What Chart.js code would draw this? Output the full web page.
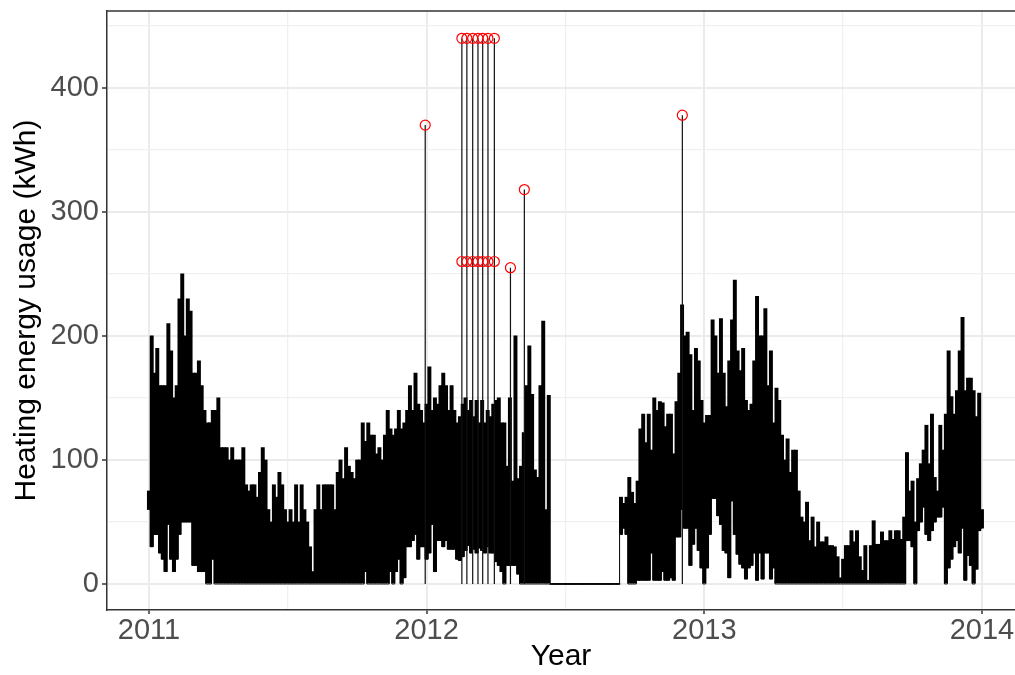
<!DOCTYPE html>
<html>
<head>
<meta charset="utf-8">
<script src="https://cdn.jsdelivr.net/npm/chart.js@4.4.1/dist/chart.umd.min.js"></script>
<style>
  html, body { margin: 0; padding: 0; background: #fff; }
  #wrap { width: 1015px; height: 675px; position: relative; }
</style>
</head>
<body>
<div id="wrap"><canvas id="heatChart"></canvas></div>
<script>
// sampled envelope of the hourly series, one value per 0.01 year from 2011.00 to 2014.00
const yearStart = 2011;
const yearStep = 0.01;

const upper = [
  75, 200, 170, 190, 160, 160, 160, 210, 188, 150,   // 2011.0x
  160, 230, 250, 200, 230, 220, 170, 170, 180, 160,  // 2011.1x
  140, 130, 130, 140, 140, 150, 110, 110, 110, 100,  // 2011.2x
  110, 100, 100, 100, 110, 80, 75, 80, 80, 70,       // 2011.3x
  90, 110, 100, 60, 50, 80, 70, 90, 80, 60,          // 2011.4x
  50, 60, 50, 80, 50, 80, 60, 50, 30, 10,            // 2011.5x
  60, 80, 60, 80, 80, 80, 80, 60, 90, 100,           // 2011.6x
  85, 110, 95, 90, 85, 100, 100, 130, 115, 130,      // 2011.7x
  120, 120, 105, 110, 100, 120, 140, 125, 120, 125,  // 2011.8x
  140, 125, 130, 140, 160, 140, 170, 145, 140, 130,  // 2011.9x
  145, 175, 140, 150, 145, 160, 170, 160, 140, 160,  // 2012.0x
  140, 130, 135, 145, 150, 140, 148, 135, 148, 130,  // 2012.1x
  148, 130, 140, 135, 145, 148, 150, 130, 130, 95,   // 2012.2x
  150, 83, 200, 85, 95, 122, 160, 192, 153, 92,      // 2012.3x
  86, 160, 212, 60, 152, 0, 0, 0, 0, 0,              // 2012.4x
  0, 0, 0, 0, 0, 0, 0, 0, 0, 0,                      // 2012.5x
  0, 0, 0, 0, 0, 0, 0, 0, 0, 0,                      // 2012.6x
  70, 65, 70, 86, 74, 65, 83, 125, 137, 114,         // 2012.7x
  137, 108, 150, 140, 147, 146, 127, 137, 137, 105,  // 2012.8x
  147, 170, 225, 200, 203, 185, 140, 190, 180, 148,  // 2012.9x
  130, 136, 136, 213, 200, 170, 214, 170, 143, 180,  // 2013.0x
  213, 245, 188, 172, 190, 148, 140, 145, 180, 232,  // 2013.1x
  200, 200, 222, 160, 188, 130, 158, 148, 120, 100,  // 2013.2x
  117, 90, 108, 108, 75, 54, 50, 66, 35, 54,         // 2013.3x
  30, 50, 34, 34, 38, 31, 31, 30, 22, 5,             // 2013.4x
  20, 31, 31, 43, 34, 43, 22, 11, 31, 3,             // 2013.5x
  31, 51, 32, 32, 42, 35, 35, 43, 36, 43,            // 2013.6x
  43, 36, 54, 106, 75, 83, 50, 85, 97, 108,          // 2013.7x
  128, 97, 137, 86, 75, 128, 108, 137, 188, 151,     // 2013.8x
  137, 156, 188, 215, 156, 166, 166, 156, 135, 154,  // 2013.9x
  60                                                 // 2014.00
];

const lower = [
  60, 30, 40, 40, 25, 20, 10, 48, 20, 10,            // 2011.0x
  20, 40, 50, 50, 50, 50, 15, 15, 10, 10,            // 2011.1x
  10, 0, 0, 20, 0, 0, 0, 0, 0, 0,                    // 2011.2x
  0, 0, 0, 0, 0, 0, 0, 0, 0, 0,                      // 2011.3x
  0, 0, 0, 0, 0, 0, 0, 0, 0, 0,                      // 2011.4x
  0, 0, 0, 0, 0, 0, 0, 0, 0, 0,                      // 2011.5x
  0, 0, 0, 0, 0, 0, 0, 0, 0, 0,                      // 2011.6x
  0, 0, 0, 0, 0, 0, 0, 0, 10, 0,                     // 2011.7x
  0, 0, 0, 0, 0, 0, 0, 10, 0, 10,                    // 2011.8x
  20, 0, 5, 30, 30, 35, 40, 20, 30, 30,              // 2011.9x
  20, 25, 48, 10, 35, 35, 30, 35, 28, 28,            // 2012.0x
  28, 20, 19, 22, 27, 31, 25, 28, 25, 29,            // 2012.1x
  27, 25, 30, 25, 25, 18, 15, 10, 0, 15,             // 2012.2x
  15, 15, 15, 8, 0, 0, 0, 0, 0, 0,                   // 2012.3x
  0, 0, 0, 0, 0, 0, 0, 0, 0, 0,                      // 2012.4x
  0, 0, 0, 0, 0, 0, 0, 0, 0, 0,                      // 2012.5x
  0, 0, 0, 0, 0, 0, 0, 0, 0, 0,                      // 2012.6x
  40, 45, 40, 0, 0, 0, 3, 3, 3, 3,                   // 2012.7x
  3, 25, 3, 3, 3, 10, 3, 3, 5, 3,                    // 2012.8x
  38, 38, 60, 45, 45, 15, 32, 45, 27, 13,            // 2012.9x
  0, 13, 40, 69, 69, 55, 48, 27, 25, 5,              // 2013.0x
  67, 40, 24, 16, 13, 4, 13, 15, 25, 3,              // 2013.1x
  25, 4, 25, 25, 4, 13, 0, 0, 0, 0,                  // 2013.2x
  0, 0, 0, 0, 0, 0, 0, 0, 0, 0,                      // 2013.3x
  0, 0, 0, 0, 0, 0, 0, 0, 0, 0,                      // 2013.4x
  0, 0, 0, 0, 0, 0, 0, 0, 0, 0,                      // 2013.5x
  0, 0, 0, 0, 0, 0, 0, 0, 0, 0,                      // 2013.6x
  0, 0, 0, 35, 35, 30, 0, 43, 50, 62,                // 2013.7x
  40, 35, 43, 50, 54, 54, 62, 0, 13, 20,             // 2013.8x
  30, 35, 25, 45, 3, 23, 15, 0, 12, 43,              // 2013.9x
  45                                                 // 2014.00
];

// flagged outliers (red circles)
const outlierYears = [2011.995, 2012.127, 2012.145, 2012.166, 2012.185, 2012.202, 2012.221, 2012.244,
                      2012.127, 2012.145, 2012.166, 2012.185, 2012.202, 2012.221, 2012.244,
                      2012.302, 2012.352, 2012.921];
const outlierValues = [370, 440, 440, 440, 440, 440, 440, 440,
                       260, 260, 260, 260, 260, 260, 260,
                       255, 318, 378];

const xTicks = [2011, 2011.5, 2012, 2012.5, 2013, 2013.5, 2014];
const xMajor = [2011, 2012, 2013, 2014];
const yTicks = [0, 50, 100, 150, 200, 250, 300, 350, 400, 450];
const yMajor = [0, 100, 200, 300, 400];

const years = upper.map((_, i) => +(yearStart + i * yearStep).toFixed(2));
const rangePts = upper.map((v, i) => ({ x: years[i], y: [lower[i], v] }));
const lowerPts = lower.map((v, i) => ({ x: years[i], y: v }));

// vertical strokes of the series up to each outlier
const spikePts = [];
outlierYears.forEach((yr, i) => {
  spikePts.push({ x: yr, y: 0 }, { x: yr, y: outlierValues[i] }, { x: yr, y: null });
});
const outlierPts = outlierYears.map((yr, i) => ({ x: yr, y: outlierValues[i] }));

const FONT = '"Liberation Sans", Arial, sans-serif';

const panelTop = {
  id: 'panelTop',
  afterDatasetsDraw(chart) {
    const { ctx, chartArea: a } = chart;
    ctx.save();
    ctx.strokeStyle = '#333333';
    ctx.lineWidth = 1.5;
    ctx.beginPath();
    ctx.moveTo(a.left, a.top);
    ctx.lineTo(a.right, a.top);
    ctx.stroke();
    ctx.restore();
  }
};

const noPad = s => { s.paddingLeft = 0; s.paddingRight = 0; s.paddingTop = 0; s.paddingBottom = 0; };

new Chart(document.getElementById('heatChart'), {
  type: 'line',
  data: {
    datasets: [
      {
        type: 'bar',
        label: 'usage',
        data: rangePts,
        backgroundColor: '#000',
        borderWidth: 0,
        barThickness: 3.3,
        minBarLength: 1,
        order: 4
      },
      {
        label: 'usage floor',
        data: lowerPts,
        borderColor: '#000',
        borderWidth: 1,
        stepped: 'middle',
        pointRadius: 0,
        fill: false,
        order: 3
      },
      {
        label: 'spikes',
        data: spikePts,
        borderColor: '#111',
        borderWidth: 1.2,
        pointRadius: 0,
        spanGaps: false,
        fill: false,
        order: 2
      },
      {
        label: 'outliers',
        data: outlierPts,
        showLine: false,
        pointRadius: 5,
        pointHoverRadius: 5,
        pointBorderColor: '#FF0000',
        pointBackgroundColor: 'rgba(0,0,0,0)',
        pointBorderWidth: 1.2,
        order: 1
      }
    ]
  },
  options: {
    responsive: true,
    maintainAspectRatio: false,
    animation: false,
    events: [],
    layout: { autoPadding: false, padding: { top: 11, right: 0, bottom: 0, left: 0 } },
    elements: { line: { tension: 0 } },
    plugins: { legend: { display: false }, tooltip: { enabled: false } },
    scales: {
      x: {
        type: 'linear',
        offset: false,
        min: 2010.849,
        max: 2014.119,
        afterBuildTicks: s => { s.ticks = xTicks.map(v => ({ value: v })); },
        afterFit: s => { s.height = 65; noPad(s); },
        ticks: {
          autoSkip: false,
          maxRotation: 0,
          padding: 0,
          color: '#4D4D4D',
          font: { family: FONT, size: 29 },
          callback: v => xMajor.includes(v) ? String(v) : ''
        },
        grid: {
          offset: false,
          color: c => xMajor.includes(c.tick.value) ? '#EBEBEB' : '#F0F0F0',
          lineWidth: c => xMajor.includes(c.tick.value) ? 2 : 1.3,
          tickColor: c => xMajor.includes(c.tick.value) ? '#333333' : 'rgba(0,0,0,0)',
          tickLength: 4,
          tickWidth: 1.5
        },
        border: { color: '#333333', width: 1.5 },
        title: {
          display: true,
          text: 'Year',
          color: '#000',
          font: { family: FONT, size: 30 },
          padding: { top: 0, bottom: 0 }
        }
      },
      y: {
        min: -21,
        max: 462,
        afterBuildTicks: s => { s.ticks = yTicks.map(v => ({ value: v })); },
        afterFit: s => { s.width = 107; noPad(s); },
        ticks: {
          autoSkip: false,
          padding: 3,
          color: '#4D4D4D',
          font: { family: FONT, size: 29 },
          callback: v => yMajor.includes(v) ? String(v) : ''
        },
        grid: {
          color: c => yMajor.includes(c.tick.value) ? '#EBEBEB' : '#F0F0F0',
          lineWidth: c => yMajor.includes(c.tick.value) ? 2 : 1.3,
          tickColor: c => yMajor.includes(c.tick.value) ? '#333333' : 'rgba(0,0,0,0)',
          tickLength: 5,
          tickWidth: 1.5
        },
        border: { color: '#333333', width: 1.5 },
        title: {
          display: true,
          text: 'Heating energy usage (kWh)',
          color: '#000',
          font: { family: FONT, size: 30 },
          padding: { top: 9, bottom: 0 }
        }
      }
    }
  },
  plugins: [panelTop]
});
</script>
</body>
</html>
